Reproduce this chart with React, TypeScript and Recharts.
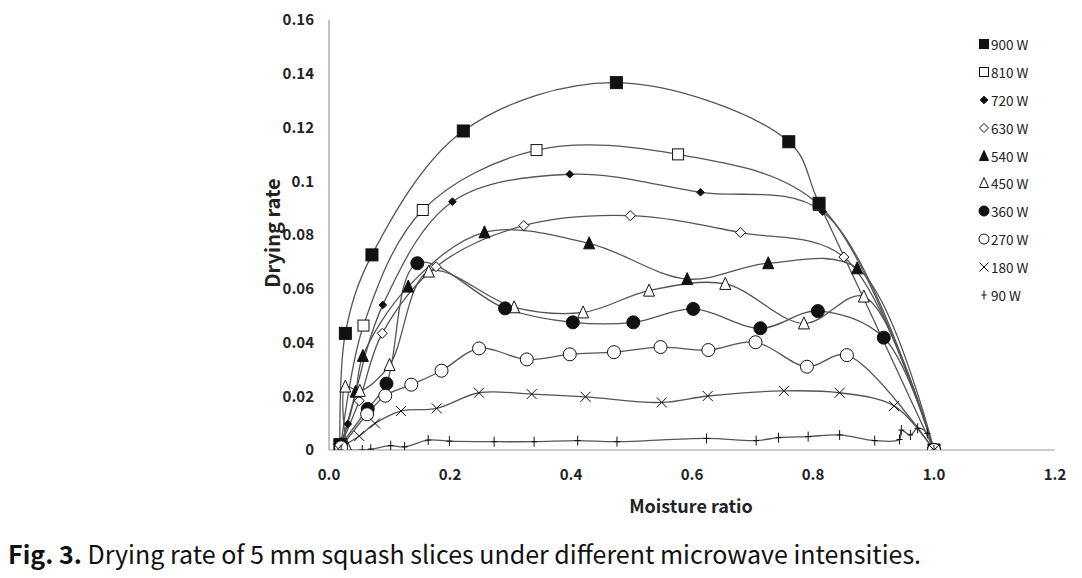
import React from "react";
import { LineChart, Line, XAxis, YAxis } from "recharts";

// Moisture ratio (x) and drying rate (y), one pair of arrays per power level
const mr900 = [0.018, 0.027, 0.071, 0.222, 0.475, 0.76, 0.81, 1.0];
const dr900 = [0.002, 0.0434, 0.0726, 0.1187, 0.1367, 0.1147, 0.0918, 0];

const mr810 = [0.02, 0.057, 0.155, 0.343, 0.577, 0.81, 1.0];
const dr810 = [0.002, 0.0463, 0.0893, 0.1116, 0.11, 0.0912, 0];

const mr720 = [0.02, 0.031, 0.089, 0.204, 0.398, 0.614, 0.816, 1.0];
const dr720 = [0.002, 0.0097, 0.054, 0.0924, 0.1026, 0.0959, 0.0887, 0];

const mr630 = [0.022, 0.05, 0.088, 0.177, 0.322, 0.498, 0.68, 0.851, 1.0];
const dr630 = [0.003, 0.0183, 0.0434, 0.0682, 0.0835, 0.0872, 0.0809, 0.0718, 0];

const mr540 = [0.02, 0.044, 0.056, 0.131, 0.257, 0.43, 0.592, 0.726, 0.873, 1.0];
const dr540 = [0.002, 0.0217, 0.035, 0.0608, 0.081, 0.0769, 0.0636, 0.0695, 0.0676, 0];

const mr450 = [0.028, 0.027, 0.051, 0.1, 0.165, 0.306, 0.42, 0.529, 0.655, 0.785, 0.884, 1.0];
const dr450 = [0.002, 0.0236, 0.022, 0.0316, 0.0664, 0.0531, 0.0512, 0.0593, 0.0618, 0.0471, 0.0571, 0];

const mr360 = [0.02, 0.064, 0.095, 0.146, 0.291, 0.403, 0.503, 0.602, 0.713, 0.808, 0.917, 1.0];
const dr360 = [0.002, 0.0153, 0.0247, 0.0695, 0.0527, 0.0475, 0.0475, 0.0525, 0.0453, 0.0517, 0.0418, 0];

const mr270 = [0.02, 0.063, 0.093, 0.136, 0.186, 0.248, 0.327, 0.398, 0.471, 0.548, 0.627, 0.705, 0.79, 0.856, 1.0];
const dr270 = [0.001, 0.0133, 0.0202, 0.0243, 0.0295, 0.0378, 0.0337, 0.0356, 0.0364, 0.0383, 0.0372, 0.0401, 0.031, 0.0353, 0];

const mr180 = [0.015, 0.05, 0.076, 0.119, 0.178, 0.248, 0.335, 0.424, 0.55, 0.626, 0.752, 0.844, 0.934, 1.0];
const dr180 = [0.0005, 0.0052, 0.0099, 0.0145, 0.0155, 0.0213, 0.0208, 0.0198, 0.0177, 0.0201, 0.022, 0.0213, 0.0164, 0];

const mr90 = [0.02, 0.055, 0.069, 0.102, 0.125, 0.164, 0.199, 0.273, 0.339, 0.411, 0.476, 0.624, 0.706, 0.743, 0.792, 0.844, 0.902, 0.943, 0.946, 0.961, 0.973, 0.989, 1.0];
const dr90 = [0, 0, 0.0003, 0.0016, 0.0012, 0.0037, 0.0033, 0.0031, 0.0031, 0.0035, 0.0031, 0.0043, 0.0035, 0.0046, 0.005, 0.0056, 0.0035, 0.0039, 0.0074, 0.0056, 0.0081, 0.0062, 0];

const seriesNames = ["900 W", "810 W", "720 W", "630 W", "540 W", "450 W", "360 W", "270 W", "180 W", "90 W"];
const markerKinds = ["sqF", "sqO", "diF", "diO", "trF", "trO", "ciF", "ciO", "x", "plus"];

const xTicks = [0, 0.2, 0.4, 0.6, 0.8, 1.0, 1.2];
const yTicks = [0, 0.02, 0.04, 0.06, 0.08, 0.1, 0.12, 0.14, 0.16];

const zip = (xs: number[], ys: number[]) => xs.map((x, i) => ({ x, y: ys[i] }));

const seriesData = [
  zip(mr900, dr900),
  zip(mr810, dr810),
  zip(mr720, dr720),
  zip(mr630, dr630),
  zip(mr540, dr540),
  zip(mr450, dr450),
  zip(mr360, dr360),
  zip(mr270, dr270),
  zip(mr180, dr180),
  zip(mr90, dr90),
];

// 810 W goes first so its point near 0.81 hides under the 900 W square
const drawOrder = [1, 0, 2, 3, 4, 5, 6, 7, 8, 9];

const FONT = '"Noto Sans CJK KR", "Noto Sans", sans-serif';
const INK = "#111";

// centripetal Catmull-Rom, a close stand-in for Excel's "smoothed line"
function smoothCurve(context: any) {
  let pts: number[][] = [];
  const ALPHA = 0.5;
  const dist = (a: number[], b: number[]) => Math.hypot(b[0] - a[0], b[1] - a[1]);
  return {
    areaStart() {},
    areaEnd() {},
    lineStart() {
      pts = [];
    },
    point(x: number, y: number) {
      pts.push([+x, +y]);
    },
    lineEnd() {
      if (pts.length === 0) return;
      context.moveTo(pts[0][0], pts[0][1]);
      for (let i = 0; i < pts.length - 1; i++) {
        const p0 = pts[i - 1] || pts[i];
        const p1 = pts[i];
        const p2 = pts[i + 1];
        const p3 = pts[i + 2] || p2;
        const l01a = Math.pow(dist(p0, p1), ALPHA);
        const l12a = Math.pow(dist(p1, p2), ALPHA);
        const l23a = Math.pow(dist(p2, p3), ALPHA);
        const l01_2a = l01a * l01a;
        const l12_2a = l12a * l12a;
        const l23_2a = l23a * l23a;
        let c1x = p1[0];
        let c1y = p1[1];
        let c2x = p2[0];
        let c2y = p2[1];
        if (l01a > 1e-6) {
          const a = 2 * l01_2a + 3 * l01a * l12a + l12_2a;
          const n = 3 * l01a * (l01a + l12a);
          c1x = (p1[0] * a - p0[0] * l12_2a + p2[0] * l01_2a) / n;
          c1y = (p1[1] * a - p0[1] * l12_2a + p2[1] * l01_2a) / n;
        }
        if (l23a > 1e-6) {
          const b = 2 * l23_2a + 3 * l23a * l12a + l12_2a;
          const m = 3 * l23a * (l23a + l12a);
          c2x = (p2[0] * b + p1[0] * l23_2a - p3[0] * l12_2a) / m;
          c2y = (p2[1] * b + p1[1] * l23_2a - p3[1] * l12_2a) / m;
        }
        context.bezierCurveTo(c1x, c1y, c2x, c2y, p2[0], p2[1]);
      }
    },
  };
}

function Marker({ kind, cx, cy, s }: { kind: string; cx: number; cy: number; s: number }) {
  const h = s / 2;
  switch (kind) {
    case "sqF":
      return <rect x={cx - h} y={cy - h} width={s} height={s} fill={INK} stroke={INK} strokeWidth={1} />;
    case "sqO":
      return <rect x={cx - h} y={cy - h} width={s} height={s} fill="#fff" stroke={INK} strokeWidth={1} />;
    case "diF": {
      const d = h * 0.85;
      return <polygon points={`${cx},${cy - d} ${cx + d},${cy} ${cx},${cy + d} ${cx - d},${cy}`} fill={INK} stroke={INK} />;
    }
    case "diO":
      return <polygon points={`${cx},${cy - h} ${cx + h},${cy} ${cx},${cy + h} ${cx - h},${cy}`} fill="#fff" stroke={INK} strokeWidth={1} />;
    case "trF":
      return <polygon points={`${cx},${cy - h - 1} ${cx + h},${cy + h} ${cx - h},${cy + h}`} fill={INK} stroke={INK} />;
    case "trO":
      return <polygon points={`${cx},${cy - h - 1} ${cx + h},${cy + h} ${cx - h},${cy + h}`} fill="#fff" stroke={INK} strokeWidth={1} />;
    case "ciF":
      return <circle cx={cx} cy={cy} r={h + 0.5} fill={INK} stroke={INK} />;
    case "ciO":
      return <circle cx={cx} cy={cy} r={h + 0.5} fill="#fff" stroke={INK} strokeWidth={1} />;
    case "x":
      return (
        <path d={`M${cx - h},${cy - h}L${cx + h},${cy + h}M${cx - h},${cy + h}L${cx + h},${cy - h}`} stroke={INK} strokeWidth={1} fill="none" />
      );
    default:
      return <path d={`M${cx},${cy - h}L${cx},${cy + h}M${cx - h * 0.6},${cy}L${cx + h * 0.6},${cy}`} stroke={INK} strokeWidth={1} fill="none" />;
  }
}

const markerSize: Record<string, number> = {
  sqF: 12,
  sqO: 11,
  diF: 9,
  diO: 10,
  trF: 11,
  trO: 11,
  ciF: 12,
  ciO: 12,
  x: 10,
  plus: 10,
};

const makeDot = (kind: string) => (props: any) => {
  const { cx, cy, index } = props;
  if (cx == null || cy == null) return <g key={`d-${kind}-${index}`} />;
  return (
    <g key={`d-${kind}-${index}`}>
      <Marker kind={kind} cx={cx} cy={cy} s={markerSize[kind]} />
    </g>
  );
};

function LegendBox() {
  return (
    <div style={{ position: "absolute", left: 978, top: 30, fontFamily: FONT, fontSize: 13.5, color: "#222" }}>
      {seriesNames.map((name, i) => (
        <div key={name} style={{ height: 27.9, display: "flex", alignItems: "center", whiteSpace: "nowrap" }}>
          <svg width={12} height={12} style={{ marginRight: 1 }}>
            <Marker kind={markerKinds[i]} cx={6} cy={6} s={9} />
          </svg>
          <span>{name}</span>
        </div>
      ))}
    </div>
  );
}

export default function App() {
  return (
    <div style={{ position: "absolute", left: 0, top: 0, width: 1082, height: 578, background: "#fff", overflow: "hidden" }}>
      <LineChart
        width={1082}
        height={578}
        margin={{ top: 20, right: 27, left: 269, bottom: 98 }}
      >
        <XAxis
          dataKey="x"
          type="number"
          domain={[0, 1.2]}
          ticks={xTicks}
          tickFormatter={(v: number) => v.toFixed(1)}
          tickLine={false}
          tickSize={0}
          tickMargin={19}
          height={30}
          axisLine={{ stroke: "#999", strokeWidth: 1.2 }}
          tick={{ fontFamily: FONT, fontSize: 15, fontWeight: 700, fill: "#222" }}
          allowDataOverflow
        />
        <YAxis
          dataKey="y"
          type="number"
          domain={[0, 0.16]}
          ticks={yTicks}
          tickFormatter={(v: number) => String(v)}
          tickLine={false}
          tickSize={0}
          tickMargin={15}
          width={60}
          axisLine={{ stroke: "#999", strokeWidth: 1.2 }}
          tick={{ fontFamily: FONT, fontSize: 15, fontWeight: 700, fill: "#222" }}
          allowDataOverflow
        />
        {drawOrder.map((i) => (
          <Line
            key={seriesNames[i]}
            data={seriesData[i]}
            dataKey="y"
            name={seriesNames[i]}
            type={smoothCurve as any}
            stroke="#555"
            strokeWidth={1.3}
            dot={makeDot(markerKinds[i])}
            activeDot={false}
            isAnimationActive={false}
          />
        ))}
      </LineChart>
      <div
        style={{
          position: "absolute",
          left: 271,
          top: 233,
          transform: "translate(-50%, -50%) rotate(-90deg)",
          fontFamily: FONT,
          fontSize: 20,
          fontWeight: 700,
          color: "#222",
          whiteSpace: "nowrap",
        }}
      >
        Drying rate
      </div>
      <div
        style={{
          position: "absolute",
          left: 691,
          top: 505,
          transform: "translate(-50%, -50%)",
          fontFamily: FONT,
          fontSize: 18,
          fontWeight: 700,
          color: "#222",
          whiteSpace: "nowrap",
        }}
      >
        Moisture ratio
      </div>
      <LegendBox />
      <div
        style={{
          position: "absolute",
          left: 8,
          top: 553,
          transform: "translateY(-50%)",
          fontFamily: FONT,
          fontSize: 25,
          color: "#111",
          whiteSpace: "nowrap",
        }}
      >
        <b>Fig. 3.</b> Drying rate of 5 mm squash slices under different microwave intensities.
      </div>
    </div>
  );
}
